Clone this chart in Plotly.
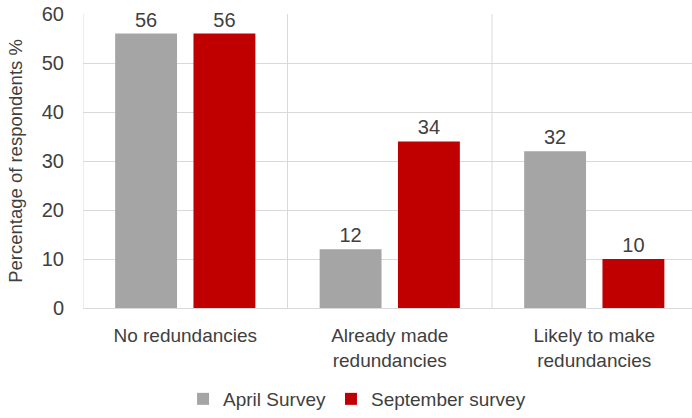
import plotly.graph_objects as go

categories = ["No redundancies", "Already made<br>redundancies", "Likely to make<br>redundancies"]
april_values = [56, 12, 32]
september_values = [56, 34, 10]
series_names = ["April Survey", "September survey"]
y_ticks = [0, 10, 20, 30, 40, 50, 60]

FONT = "Liberation Sans, Arial, sans-serif"
TEXT = "#404040"
GRID = "#d9d9d9"

fig = go.Figure()
for name, vals, col in [(series_names[0], april_values, "#a5a5a5"),
                        (series_names[1], september_values, "#c00000")]:
    fig.add_trace(go.Bar(
        x=categories, y=vals, name=name, marker_color=col,
        marker_line_width=0,
        text=[str(v) for v in vals], textposition="outside",
        textfont=dict(size=20, color=TEXT, family=FONT),
        cliponaxis=False,
    ))

# category separators and left border
for xv in [-0.5, 0.5, 1.5]:
    fig.add_shape(type="line", xref="x", yref="y", x0=xv, x1=xv, y0=0, y1=60,
                  line=dict(color=GRID, width=1), layer="below")

fig.update_layout(
    width=692, height=418,
    margin=dict(l=83, r=0, t=14, b=105),
    paper_bgcolor="white", plot_bgcolor="white",
    barmode="group", bargap=0.234, bargroupgap=0.21,
    font=dict(family=FONT, size=19, color=TEXT),
    showlegend=True,
    legend=dict(orientation="h", x=0.45, xanchor="center", y=-0.245, yanchor="top",
                font=dict(size=19, color=TEXT), itemwidth=30, traceorder="normal"),
)
fig.update_xaxes(range=[-0.5, 2.478], showgrid=False, showline=True, linecolor=GRID,
                 ticks="", tickfont=dict(size=19, color=TEXT), ticklabelstandoff=10)
fig.update_yaxes(range=[0, 60], tickvals=y_ticks, showgrid=True, gridcolor=GRID,
                 zeroline=False, showline=False, ticks="",
                 tickfont=dict(size=20, color=TEXT), ticklabelstandoff=18,
                 title=dict(text="Percentage of respondents %", font=dict(size=18.5, color=TEXT),
                            standoff=14))

fig.write_html("out.html")
